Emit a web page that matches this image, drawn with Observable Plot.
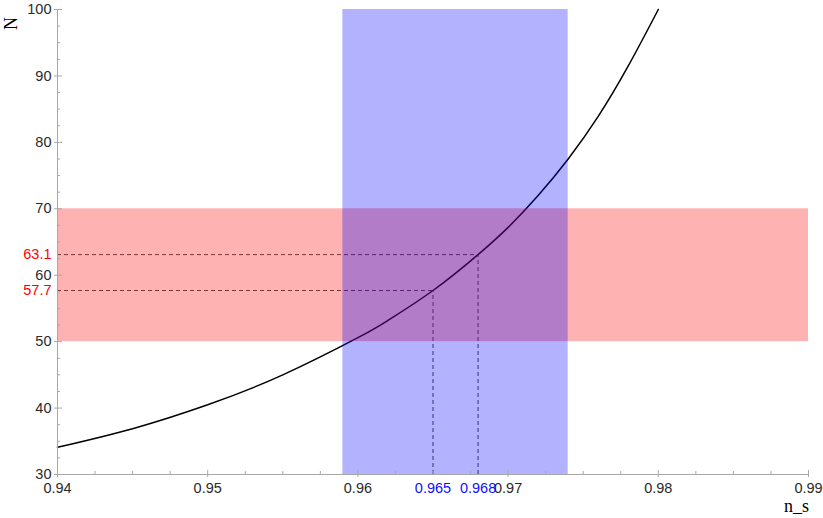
<!DOCTYPE html>
<html>
<head>
<meta charset="utf-8">
<script src="https://cdn.jsdelivr.net/npm/d3@7"></script>
<script src="https://cdn.jsdelivr.net/npm/@observablehq/plot@0.6"></script>
<style>
  html, body { margin: 0; padding: 0; background: #fff; }
  #chart svg { display: block; }
</style>
</head>
<body>
<div id="chart"></div>
<script>
// Curve: N versus n_s
const nsValues = [0.940, 0.945, 0.950, 0.955, 0.960, 0.962, 0.965, 0.968, 0.970, 0.972, 0.974, 0.976, 0.978, 0.980];
const NValues  = [34.1, 36.9, 40.5, 45.0, 50.6, 53.2, 57.7, 63.1, 67.2, 72.0, 77.5, 83.9, 91.5, 100.0];

// Marked crossings
const crossNs = [0.965, 0.968];
const crossN  = [57.7, 63.1];
const crossNsLabels = ["0.965", "0.968"];
const crossNLabels  = ["57.7", "63.1"];

// Bands
const nsBand = [0.959, 0.974];   // blue, vertical band
const NBand  = [50, 70];         // red, horizontal band

// Axes
const xDomain = [0.94, 0.99];
const yDomain = [30, 100];
const xTicks = [0.94, 0.95, 0.96, 0.97, 0.98, 0.99];
const xTickLabels = ["0.94", "0.95", "0.96", "0.97", "0.98", "0.99"];
const xMinor = [0.9425, 0.945, 0.9475, 0.9525, 0.955, 0.9575, 0.9625, 0.965, 0.9675, 0.9725, 0.975, 0.9775, 0.9825, 0.985, 0.9875];
const yTicks = [30, 40, 50, 60, 70, 80, 90, 100];
const yTickLabels = ["30", "40", "50", "60", "70", "80", "90", "100"];
const yMinor = [32.5, 35, 37.5, 42.5, 45, 47.5, 52.5, 55, 57.5, 62.5, 65, 67.5, 72.5, 75, 77.5, 82.5, 85, 87.5, 92.5, 95, 97.5];

const curve = nsValues.map((x, i) => ({x, y: NValues[i]}));
const cross = crossNs.map((x, i) => ({x, y: crossN[i], xl: crossNsLabels[i], yl: crossNLabels[i]}));
const xLab = xTicks.map((x, i) => ({x, t: xTickLabels[i]}));
const yLab = yTicks.map((y, i) => ({y, t: yTickLabels[i]}));

const axisColor = "#a8a8a8";
const labelColor = "#2a2a2a";
const sans = "'Liberation Sans', Arial, sans-serif";
const serif = "'Liberation Serif', 'Times New Roman', serif";

const chart = Plot.plot({
  width: 823,
  height: 518,
  marginLeft: 57,
  marginRight: 15,
  marginTop: 9,
  marginBottom: 44,
  style: {fontFamily: sans, fontSize: "14px", background: "#fff"},
  x: {domain: xDomain, axis: null},
  y: {domain: yDomain, axis: null},
  marks: [
    // curve and guides (drawn under the translucent bands)
    Plot.line(curve, {x: "x", y: "y", curve: "natural", stroke: "#000", strokeWidth: 1.5}),
    Plot.ruleY(cross, {y: "y", x1: () => xDomain[0], x2: "x", stroke: "#333", strokeWidth: 0.9, strokeDasharray: "4,3"}),
    Plot.ruleX(cross, {x: "x", y1: () => yDomain[0], y2: "y", stroke: "#333", strokeWidth: 0.9, strokeDasharray: "4,3"}),
    // bands
    Plot.rect([0], {x1: () => xDomain[0], x2: () => xDomain[1], y1: () => NBand[0], y2: () => NBand[1], fill: "#ff0000", fillOpacity: 0.3}),
    Plot.rect([0], {x1: () => nsBand[0], x2: () => nsBand[1], y1: () => yDomain[0], y2: () => yDomain[1], fill: "#0000ff", fillOpacity: 0.3}),
    // axis lines
    Plot.ruleX([xDomain[0]], {stroke: axisColor, strokeWidth: 1}),
    Plot.ruleY([yDomain[0]], {stroke: axisColor, strokeWidth: 1}),
    // ticks
    Plot.axisY({ticks: yTicks, tickSize: 8, dx: 5, tickFormat: () => "", stroke: axisColor, label: null}),
    Plot.axisY({ticks: yMinor, tickSize: 3, dx: 3, tickFormat: () => "", stroke: axisColor, label: null}),
    Plot.axisX({ticks: xTicks, tickSize: 7, dy: -4, tickFormat: () => "", stroke: axisColor, label: null}),
    Plot.axisX({ticks: xMinor, tickSize: 3, dy: -3, tickFormat: () => "", stroke: axisColor, label: null}),
    // tick labels
    Plot.text(yLab, {y: "y", text: "t", frameAnchor: "left", dx: -6, textAnchor: "end", lineAnchor: "middle", fill: labelColor, fontSize: 14.5}),
    Plot.text(xLab, {x: "x", text: "t", frameAnchor: "bottom", dy: 14, textAnchor: "middle", lineAnchor: "middle", fill: labelColor, fontSize: 14.5}),
    // highlighted values
    Plot.text(cross, {y: "y", text: "yl", frameAnchor: "left", dx: -6, textAnchor: "end", lineAnchor: "middle", fill: "#ff0000", fontSize: 14.5}),
    Plot.text(cross, {x: "x", text: "xl", frameAnchor: "bottom", dy: 14, textAnchor: "middle", lineAnchor: "middle", fill: "#1010ff", fontSize: 14.5}),
    // axis titles
    Plot.text(["N"], {frameAnchor: "top-left", dx: -46, dy: 14, rotate: -90, textAnchor: "middle", lineAnchor: "middle", fontFamily: serif, fontSize: 18, fill: "#000"}),
    Plot.text(["n_s"], {frameAnchor: "bottom-right", dx: -12, dy: 32, textAnchor: "middle", lineAnchor: "middle", fontFamily: serif, fontSize: 18, fill: "#000"})
  ]
});

document.getElementById("chart").appendChild(chart);
</script>
</body>
</html>
